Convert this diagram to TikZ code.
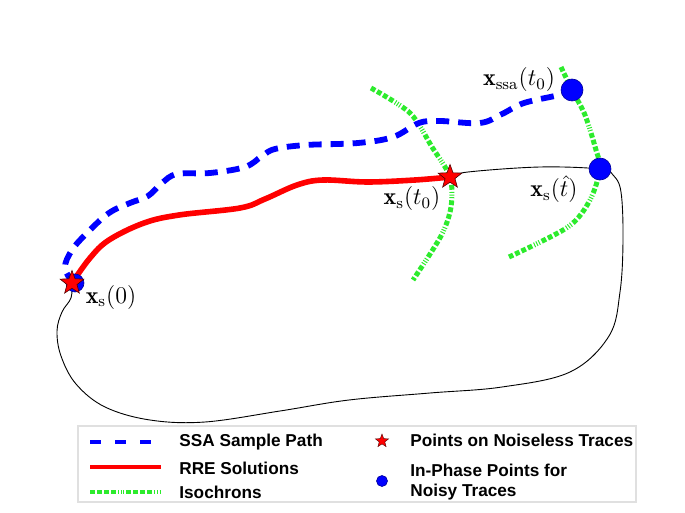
\documentclass[tikz,border=0pt]{standalone}
\usepackage{fontspec}
\setsansfont{Liberation Sans}
\usepackage{xcolor}
\usetikzlibrary{shapes.geometric}
\definecolor{isogreen}{RGB}{45,235,45}

\begin{document}
\begin{tikzpicture}[
 x=0.5pt, y=-0.5pt,
 cyclepath/.style={draw=black, line width=0.45pt},
 rre/.style={draw=red, line width=2.8pt, line cap=round},
 ssa/.style={draw=blue, line width=2.9pt, dash pattern=on 6.5pt off 4.5pt},
 iso/.style={draw=isogreen, line width=2.5pt,
   dash pattern=on 2.4pt off 1.1pt on 2.4pt off 1.1pt on 2.4pt off 1.1pt on 2.4pt off 1.1pt on 0.5pt off 0.8pt on 0.5pt off 0.8pt on 0.5pt off 1.1pt},
 noiseless/.style={star, star points=5, star point ratio=2.4, fill=red,
   draw=black!70!red, line width=0.3pt, minimum size=12.5pt, inner sep=0pt},
 inphase/.style={circle, fill=blue, draw=blue!60!black, line width=0.3pt,
   minimum size=11pt, inner sep=0pt},
 lbl/.style={font=\large, inner sep=0pt},
 legtext/.style={font=\sffamily\bfseries\fontsize{8.6}{10.2}\selectfont,
   anchor=west, inner sep=0pt, align=left}
]
\useasboundingbox (0,0) rectangle (685,513);

% key points
\coordinate (s0) at (72,283);
\coordinate (st0) at (450,177);
\coordinate (sthat) at (600,169);
\coordinate (sssa) at (572,90);

% limit cycle
\draw[cyclepath] plot[smooth, tension=0.6] coordinates {(st0) (468,172) (540,167) (sthat) (613,175) (621,192) (623,240) (620,292) (609,336) (570,372) (502,387) (430,393) (349,400) (280,411) (205,422) (150,420) (105,407) (76,384) (61,356) (57,331) (62,312) (71,298) (s0)};

% isochrons
\draw[iso] plot[smooth] coordinates {(371,88) (410,113) (432,147) (st0) (451,207) (441,236) (413,280)};
\draw[iso] plot[smooth] coordinates {(561,67) (sssa) (585,115) (596,150) (sthat) (590,200) (568,227) (509,257)};

% SSA sample path
\draw[ssa] plot[smooth, tension=0.6] coordinates {(74,284) (65,268) (72,250) (88,232) (109,213) (130,203) (148,196) (162,183) (177,174) (210,173) (245,167) (262,156) (275,149) (306,145) (358,143) (393,137) (419,123) (440,121) (480,123) (502,114) (524,103) (559,95) (sssa)};

% RRE solution
\draw[rre] plot[smooth, tension=0.6] coordinates {(s0) (90,258) (109,240) (144,223) (179,215) (240,208) (265,199) (297,185) (323,180) (367,182) (415,180) (st0)};

% marked points
\node[inphase, minimum size=9pt] (d0) at (75,283) {};
\node[noiseless] (p0) at (s0) {};
\node[noiseless] (pt0) at (st0) {};
\node[inphase] (dhat) at (sthat) {};
\node[inphase] (dssa) at (sssa) {};

% labels
\node[lbl] (l0) at (111,297) {$\mathbf{x}_{\mathrm{s}}(0)$};
\node[lbl] (lt0) at (412,199) {$\mathbf{x}_{\mathrm{s}}(t_0)$};
\node[lbl] (lssa) at (519,80) {$\mathbf{x}_{\mathrm{ssa}}(t_0)$};
\node[lbl] (lhat) at (554,189) {$\mathbf{x}_{\mathrm{s}}(\hat{t})$};

% legend
\draw[black!12, line width=0.6pt] (78,426) rectangle (636,502);
\coordinate (ssaA) at (90,442);  \coordinate (ssaB) at (152,442);
\coordinate (rreA) at (90,467);  \coordinate (rreB) at (161,467);
\coordinate (isoA) at (90,492);  \coordinate (isoB) at (161,492);
\draw[draw=blue, line width=2pt, dash pattern=on 5.5pt off 7pt] (ssaA) -- (ssaB);
\draw[draw=red, line width=2pt] (rreA) -- (rreB);
\draw[iso, line width=1.8pt] (isoA) -- (isoB);
\node[legtext] (tssa) at (179,442) {SSA Sample Path};
\node[legtext] (trre) at (179,468) {RRE Solutions};
\node[legtext] (tiso) at (179,492) {Isochrons};
\node[noiseless, minimum size=7pt, line width=0.2pt] (kstar) at (382,441) {};
\node[legtext] (tstar) at (410,440) {Points on Noiseless Traces};
\node[inphase, minimum size=5.5pt] (kdot) at (382,481) {};
\node[legtext] (tdot) at (410,482) {In-Phase Points for\\Noisy Traces};
\end{tikzpicture}
\end{document}
